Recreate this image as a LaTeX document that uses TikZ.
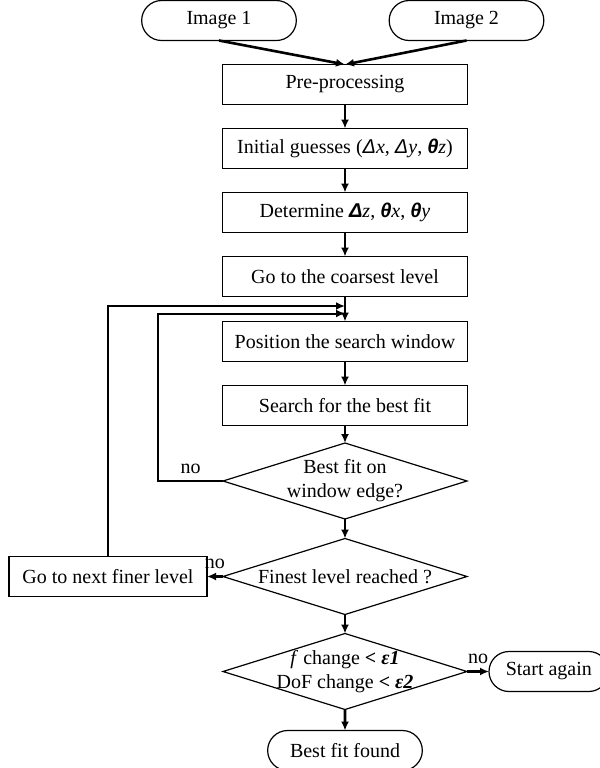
\documentclass[tikz,border=0pt]{standalone}
\usepackage{fontspec}
\setmainfont{Liberation Serif}
\newfontfamily\grkfont{Liberation Sans}
\usepackage{tikz}
\usetikzlibrary{arrows.meta,positioning,calc,shapes.geometric,shapes.misc}
\newcommand{\gk}[1]{{\grkfont\itshape #1}}
\newcommand{\gkb}[1]{{\grkfont\bfseries\itshape #1}}

\begin{document}
\begin{tikzpicture}[x=0.5pt, y=-0.5pt, node distance=12pt,
    >={Latex[length=4.5pt,width=4pt]}, font=\fontsize{10}{12}\selectfont]
\tikzstyle{blk}=[draw, line width=0.6pt, outer sep=0pt, minimum width=122.5pt,
                 minimum height=20pt, inner sep=2pt]
\tikzstyle{term}=[draw, line width=0.6pt, outer sep=0pt, rounded rectangle,
                  minimum width=84pt, minimum height=20pt]
\tikzstyle{ask}=[draw, line width=0.6pt, outer sep=0pt, diamond, aspect=3.2,
                 minimum width=122pt, minimum height=38pt,
                 inner xsep=0pt, inner ysep=-6pt, align=center]
\tikzstyle{flow}=[->, line width=1.3pt]
\tikzstyle{back}=[->, line width=1pt]

\fill[white] (0,0) rectangle (600,768);
\useasboundingbox (0,0) rectangle (600,768);

\node[term] (img1) at (219,20.5) {Image 1};
\node[term] (img2) at (466.5,20.5) {Image 2};
\node[blk] (prep) at (345,84.5) {Pre-processing};
\node[blk, below=of prep] (guess)
  {Initial guesses (\gk{Δ}\textit{x}, \gk{Δ}\textit{y}, \gkb{θ}\textit{z})};
\node[blk, below=of guess] (det)
  {Determine \gkb{Δ}\textit{z}, \gkb{θ}\textit{x}, \gkb{θ}\textit{y}};
\node[blk, below=of det] (coarse) {Go to the coarsest level};
\node[blk, below=12.5pt of coarse] (pos) {Position the search window};
\node[blk, below=of pos] (search) {Search for the best fit};
\node[ask, below=8.75pt of search] (edge) {Best fit on\\window edge?};
\node[ask, below=9.75pt of edge] (finest) {Finest level reached ?};
\node[ask, below=9.5pt of finest] (conv)
  {\textit{f} change \textbf{<} \textbf{\textit{ε1}}\\
   DoF change \textbf{<} \textbf{\textit{ε2}}};
\node[term, below=10.5pt of conv] (found) {Best fit found};
\node[blk, minimum width=99pt, left=8pt of finest] (finer) {Go to next finer level};
\node[term, minimum width=66.5pt, right=11pt of conv] (again) {Start again};

% main column
\draw[flow] (img1.south) -- (prep.north);
\draw[flow] (img2.south) -- (prep.north);
\foreach \a/\b in {prep/guess, guess/det, det/coarse, coarse/pos, pos/search,
                   search/edge, edge/finest, finest/conv, conv/found}
  \draw[flow] (\a) -- (\b);

% "no" branches
\draw[flow] (finest) -- node[above] {no} (finer);
\draw[flow] (conv) -- node[above] {no} (again);

% loops back into the search
\coordinate (outerin) at ($(coarse.south)!0.38!(pos.north)$);
\coordinate (innerin) at ($(coarse.south)!0.68!(pos.north)$);
\draw[back] (edge.west) -- node[above] {no} ++(-65,0) |- (innerin);
\draw[back] (finer.north) |- (outerin);

\end{tikzpicture}
\end{document}
